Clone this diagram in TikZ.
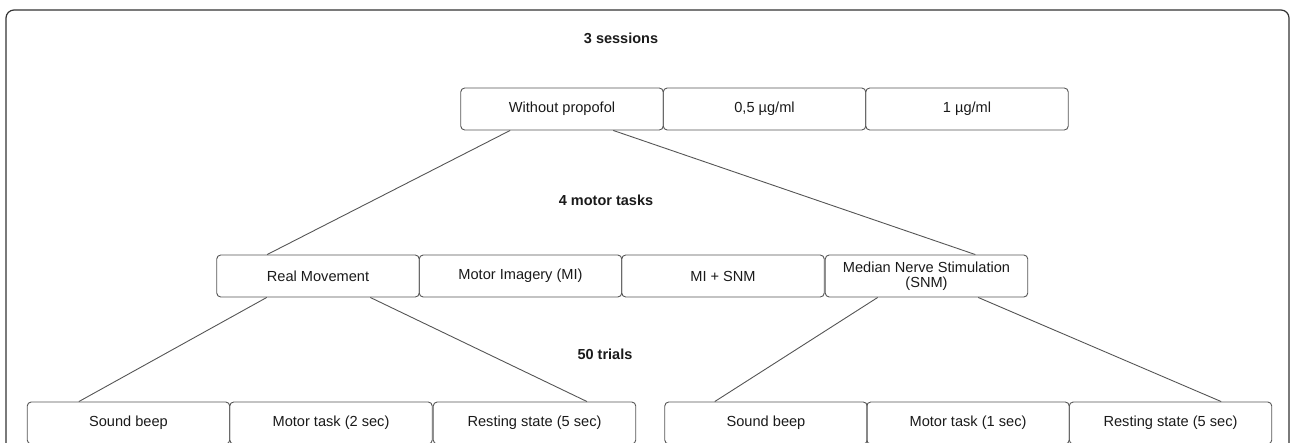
\documentclass[tikz,border=0pt]{standalone}
\usepackage{fontspec}
\setmainfont{Liberation Sans}
\usetikzlibrary{calc}
\definecolor{edge}{HTML}{555555}
\definecolor{txt}{HTML}{1A1A1A}
\tikzset{
  cell/.style={draw=edge, line width=0.9pt, rounded corners=4pt, minimum width=202.5pt, minimum height=42pt, inner sep=0pt, text=txt, font=\fontsize{14.6}{15}\selectfont, align=center},
  heading/.style={text=txt, font=\fontsize{14.5}{16}\selectfont\bfseries, inner sep=0pt},
  link/.style={draw=edge, line width=0.9pt}
}
\begin{document}
\begin{tikzpicture}[x=1pt,y=-1pt]
\useasboundingbox (0,0) rectangle (1292,442);
\clip (0,0) rectangle (1292,442);
\draw[draw=black!80, line width=1.2pt, rounded corners=8pt] (6,10) rectangle (1289,470);
\node[heading] (t1) at (621,38) {3 sessions};
\node[heading] (t2) at (606,200) {4 motor tasks};
\node[heading] (t3) at (605,354) {50 trials};
% sessions
\node[cell] (s1) at (562,109) {Without propofol};
\node[cell] (s2) at (764.5,109) {0,5 µg/ml};
\node[cell] (s3) at (967,109) {1 µg/ml};
% tasks
\node[cell] (m1) at (318,276) {Real Movement};
\node[cell] (m2) at (520.5,276) {Motor Imagery (MI)};
\node[cell] (m3) at (723,276) {MI + SNM};
\node[cell] (m4) at (926.5,276) {Median Nerve Stimulation\\[0pt](SNM)};
% trials left
\node[cell] (a1) at (128.5,423) {Sound beep};
\node[cell] (a2) at (331,423) {Motor task (2 sec)};
\node[cell] (a3) at (534.5,423) {Resting state (5 sec)};
% trials right
\node[cell] (b1) at (766,423) {Sound beep};
\node[cell] (b2) at (968,423) {Motor task (1 sec)};
\node[cell] (b3) at (1170.5,423) {Resting state (5 sec)};
% connectors
\draw[link] ($(s1.south west)!0.245!(s1.south east)$) -- ($(m1.north west)!0.25!(m1.north east)$);
\draw[link] ($(s1.south west)!0.752!(s1.south east)$) -- ($(m4.north west)!0.74!(m4.north east)$);
\draw[link] ($(m1.south west)!0.248!(m1.south east)$) -- ($(a1.north west)!0.256!(a1.north east)$);
\draw[link] ($(m1.south west)!0.757!(m1.south east)$) -- ($(a3.north west)!0.758!(a3.north east)$);
\draw[link] ($(m4.south west)!0.26!(m4.south east)$) -- ($(b1.north west)!0.248!(b1.north east)$);
\draw[link] ($(m4.south west)!0.754!(m4.south east)$) -- ($(b3.north west)!0.749!(b3.north east)$);
\end{tikzpicture}
\end{document}
